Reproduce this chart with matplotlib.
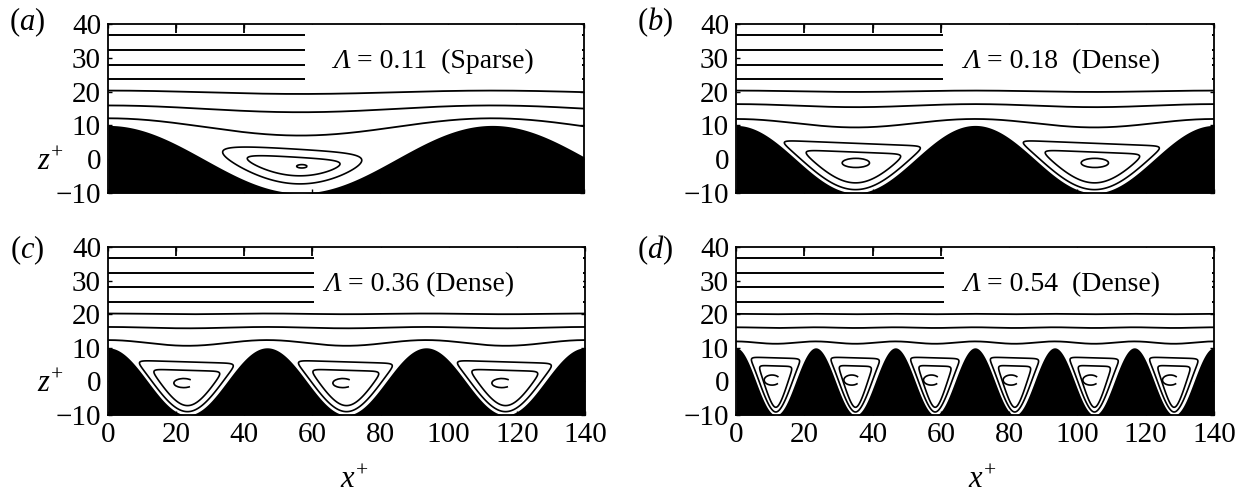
import numpy as np
import matplotlib
matplotlib.use("Agg")
import matplotlib.pyplot as plt
from matplotlib.patches import Rectangle, Arc

plt.rcParams['font.family'] = ['Liberation Serif', 'DejaVu Serif']
plt.rcParams['mathtext.fontset'] = 'custom'
plt.rcParams['mathtext.rm'] = 'Liberation Serif'
plt.rcParams['mathtext.it'] = 'Liberation Serif:italic'
plt.rcParams['mathtext.bf'] = 'Liberation Serif:bold'
plt.rcParams['axes.unicode_minus'] = True

# ---------------- data ----------------
panel_letters = ['a', 'b', 'c', 'd']
lambda_values = ['0.11', '0.18', '0.36', '0.54']
lambda_kinds = ['Sparse', 'Dense', 'Dense', 'Dense']
label_gaps = ['  ', '  ', ' ', '  ']
wavelengths = [113.0, 70.0, 46.67, 23.33]      # crest-to-crest spacing (x+)
wall_amplitude = 10.0

upper_lines_z = [36.7, 32.3, 28.0, 23.7]         # straight streamlines near the top
wavy_crest_z = [[12.1, 15.9, 20.3], [11.9, 16.3, 20.3], [12.3, 16.2, 20.2], [11.9, 16.1, 20.1]]
wavy_trough_z = [[7.0, 13.9, 19.3], [9.4, 15.4, 19.9], [10.6, 15.8, 20.0], [11.2, 15.9, 20.0]]

# two outer recirculation loops per trough: top height, wall offset, corner rounding
loop_tops = [[3.0, 0.6], [4.7, 2.1], [5.8, 3.3], [7.0, 4.6]]
loop_offsets = [[2.6, 5.0], [1.0, 3.0], [1.0, 2.8], [0.9, 2.3]]
loop_smooth = [[3.0, 1.8], [0.8, 0.9], [0.8, 0.8], [0.6, 0.6]]
loop_tilt = [-0.06, -0.04, -0.03, -0.03]

# innermost loop: shift from trough centre, z centre, width, height, arc start/end (deg)
core_dx = [0.5, 0.1, -1.1, -1.1]
core_z = [-2.1, -1.1, -0.5, 0.4]
core_w = [3.0, 8.0, 5.8, 4.6]
core_h = [1.0, 2.7, 2.7, 3.0]
core_arc = [(0, 360), (0, 360), (25, 330), (25, 330)]

box_left_x = [58.0, 60.6, 60.6, 60.8]
label_left_x = [66.2, 66.5, 63.5, 66.5]
long_top_marks = [[20, 40], [20, 40, 60], [20, 40, 60], [20, 40, 60]]

x_ticks = [0, 20, 40, 60, 80, 100, 120, 140]
z_ticks = [-10, 0, 10, 20, 30, 40]

# ---------------- figure ----------------
W, H = 1246, 495
fig = plt.figure(figsize=(W / 100, H / 100), dpi=100)

axes_px = [(108, 24, 584, 193), (736, 24, 1214, 193),
           (108, 247, 585, 415), (736, 247, 1214, 415)]
letter_px = [(27, 22), (655, 22), (27, 250), (655, 250)]

x = np.linspace(0, 140, 2801)
zg = np.linspace(-10, 12, 661)
X, Z = np.meshgrid(x, zg)


def softmin(a, b, s):
    m = np.minimum(a, b)
    return m - s * np.log(np.exp(-(a - m) / s) + np.exp(-(b - m) / s))


for i in range(4):
    l, t, r, b = axes_px[i]
    ax = fig.add_axes([l / W, 1 - b / H, (r - l) / W, (b - t) / H])
    lam = wavelengths[i]
    k = 2 * np.pi / lam

    # wall
    zw = wall_amplitude * np.cos(k * x)
    ax.fill_between(x, -10, zw, color='black', lw=0, zorder=3)

    # straight upper streamlines
    for zl in upper_lines_z:
        ax.plot([0, 140], [zl, zl], color='black', lw=1.4, zorder=2)

    # wavy streamlines
    for zc, zt in zip(wavy_crest_z[i], wavy_trough_z[i]):
        mid = 0.5 * (zc + zt)
        half = 0.5 * (zc - zt)
        ax.plot(x, mid + half * np.cos(k * x), color='black', lw=1.3, zorder=2)

    # recirculation loops
    ZW = wall_amplitude * np.cos(k * X)
    slope = -wall_amplitude * k * np.sin(k * X)
    xr = np.mod(X, lam) - lam / 2
    perp = (Z - ZW) / np.sqrt(1 + slope ** 2)
    for top, off, s in zip(loop_tops[i], loop_offsets[i], loop_smooth[i]):
        a = top + loop_tilt[i] * xr - Z
        bb = perp - off
        F = softmin(a, bb, s)
        F = np.where(Z < ZW, -1.0, F)
        ax.contour(X, Z, F, levels=[0.0], colors='black', linewidths=1.2, zorder=2)

    # innermost loops
    n_troughs = int(round(140 / lam))
    for j in range(n_troughs):
        xc = lam * (j + 0.5) + core_dx[i]
        th1, th2 = core_arc[i]
        ax.add_patch(Arc((xc, core_z[i]), core_w[i], core_h[i], theta1=th1, theta2=th2,
                         color='black', lw=1.2, zorder=2))

    # label box
    ax.add_patch(Rectangle((box_left_x[i], 21.8), 139.3 - box_left_x[i], 17.9,
                           facecolor='white', edgecolor='none', zorder=2.2))
    ax.vlines(long_top_marks[i], 37.2, 40, color='black', lw=1.3, zorder=2.3)
    t1 = ax.text(label_left_x[i], 28.9, 'Λ', fontsize=20, style='italic',
                 ha='left', va='center', zorder=4)
    ax.annotate(' = ' + lambda_values[i] + label_gaps[i] + '(' + lambda_kinds[i] + ')',
                xy=(1, 0), xycoords=t1, ha='left', va='bottom', fontsize=20, zorder=4)

    ax.set_xlim(0, 140)
    ax.set_ylim(-10, 40)
    ax.set_xticks(x_ticks)
    ax.set_yticks(z_ticks)
    ax.tick_params(direction='in', top=True, right=True, length=3, width=1,
                   labelsize=21, pad=5)
    if i < 2:
        ax.set_xticklabels([])
    for sp in ax.spines.values():
        sp.set_linewidth(1.3)
        sp.set_zorder(5)

    lx, ly = letter_px[i]
    fig.text(lx / W, 1 - ly / H, r'$(' + panel_letters[i] + ')$', fontsize=22,
             ha='center', va='center')

fig.text(50 / W, 1 - 162 / H, r'$z^{+}$', fontsize=22, ha='center', va='center')
fig.text(50 / W, 1 - 385 / H, r'$z^{+}$', fontsize=22, ha='center', va='center')
fig.text(354 / W, 1 - 481 / H, r'$x^{+}$', fontsize=22, ha='center', va='center')
fig.text(982 / W, 1 - 481 / H, r'$x^{+}$', fontsize=22, ha='center', va='center')

fig.savefig('out.png', dpi=100)
